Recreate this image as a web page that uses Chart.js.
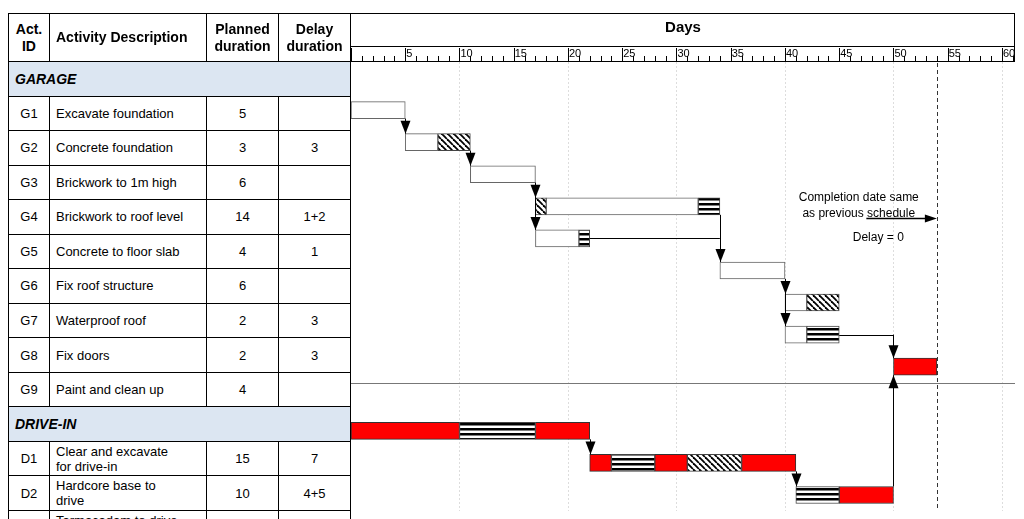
<!DOCTYPE html>
<html><head><meta charset="utf-8">
<script src="https://cdn.jsdelivr.net/npm/chart.js@4"></script>
<style>
body{margin:0;background:#fff;font-family:"Liberation Sans",Arial,sans-serif;}
#wrap{position:absolute;left:0;top:0;width:1024px;height:519px;}
.c{position:absolute;box-sizing:border-box;border-right:1px solid #000;border-bottom:1px solid #000;display:flex;align-items:center;font-size:13px;color:#000;}
#cw{position:absolute;left:351px;top:13px;width:664px;height:498px;}
</style></head><body>
<div id="wrap"><div id="cw"><canvas id="ch"></canvas></div></div>
<script>
const rows=['GARAGE','G1','G2','G3','G4','G5','G6','G7','G8','G9','DRIVE-IN','D1','D2','D3'];
const descs={G1:'Excavate foundation',G2:'Concrete foundation',G3:'Brickwork to 1m high',G4:'Brickwork to roof level',G5:'Concrete to floor slab',G6:'Fix roof structure',G7:'Waterproof roof',G8:'Fix doors',G9:'Paint and clean up',D1:'Clear and excavate for drive-in',D2:'Hardcore base to drive',D3:'Tarmacadam to drive-in'};
const planned={G1:'5',G2:'3',G3:'6',G4:'14',G5:'4',G6:'6',G7:'2',G8:'2',G9:'4',D1:'15',D2:'10',D3:'5'};
const delays={G1:'',G2:'3',G3:'',G4:'1+2',G5:'1',G6:'',G7:'3',G8:'3',G9:'',D1:'7',D2:'4+5',D3:'4'};
// segments: [row, startDay, endDay]
const whiteSegs=[['G1',0,5],['G2',5,8],['G3',11,17],['G4',18,32],['G5',17,21],['G6',34,40],['G7',40,42],['G8',40,42]];
const diagSegs=[['G2',8,11],['G4',17,18],['G7',42,45],['D2',31,36]];
const stripeSegs=[['G4',32,34],['G5',21,22],['G8',42,45],['D1',10,17],['D2',24,28],['D3',41,45]];
const redSegs=[['G9',50,54],['D1',0,10],['D1',17,22],['D2',22,24],['D2',28,31],['D2',36,41],['D3',45,50]];
// links: [fromRow, day, toRow]
const links=[['G1',5,'G2'],['G2',11,'G3'],['G3',17,'G4'],['G3',17,'G5'],['G4',34,'G6'],['G6',40,'G7'],['G6',40,'G8'],['G8',50,'G9'],['D3',50,'G9'],['D1',22,'D2'],['D2',41,'D3']];
const tails=[['G5',22,34],['G8',45,50]];
const completionDay=54;

// table
const wrap=document.getElementById('wrap');
const cols=[[8,42],[50,157],[207,72],[279,72]];
const top0=13,hh=49,rh=(511-62)/13;
function cell(x,y,w,h,txt,css){const d=document.createElement('div');d.className='c';d.style.cssText+=`left:${x}px;top:${y}px;width:${w}px;height:${h}px;`+(css||'');d.innerHTML=txt;wrap.appendChild(d);return d;}
const hdr=['Act.<br>ID','Activity Description','Planned<br>duration','Delay<br>duration'];
cols.forEach((c,i)=>cell(c[0],top0,c[1],hh,hdr[i],'font-weight:bold;font-size:14px;justify-content:center;text-align:center;line-height:17px;border-top:1px solid #000;'+(i==0?'border-left:1px solid #000;':'')+(i==1?'justify-content:flex-start;padding-left:6px;':'')));
cell(351,top0,664,hh,'','border-top:1px solid #000;');
const body=rows.filter(r=>r!=='GARAGE'&&r!=='DRIVE-IN');
rows.forEach((r,i)=>{const y=62+i*rh;
 if(r==='GARAGE'||r==='DRIVE-IN'){cell(8,y,343,rh,r,'background:#dce6f2;font-weight:bold;font-style:italic;font-size:14px;padding-left:6px;border-left:1px solid #000;');return;}
 cell(8,y,42,rh,r,'justify-content:center;border-left:1px solid #000;');
 cell(50,y,157,rh,descs[r],'padding-left:6px;line-height:15px;padding-right:20px;');
 cell(207,y,72,rh,planned[r],'justify-content:center;');
 cell(279,y,72,rh,delays[r],'justify-content:center;');
});

function mkPat(kind){const c=document.createElement('canvas');c.width=6;c.height=kind==='d'?6:5;const x=c.getContext('2d');x.fillStyle='#fff';x.fillRect(0,0,c.width,c.height);x.fillStyle='#000';
 if(kind==='d'){x.strokeStyle='#000';x.lineWidth=1.8;for(let k=-6;k<=6;k+=6){x.beginPath();x.moveTo(k,0);x.lineTo(k+6,6);x.stroke();}}
 else{x.fillRect(0,0,6,2.5);}
 return x.createPattern(c,'repeat');}
const toData=s=>s.map(a=>({y:a[0],x:[a[1],a[2]]}));
const ds=(segs,bg,bc)=>({data:toData(segs),backgroundColor:bg,borderColor:bc,borderWidth:1,borderSkipped:false,barThickness:17,grouped:false});

const deco={id:'deco',
 beforeDatasetsDraw(ch){const {ctx,chartArea:a,scales:{x,y}}=ch;ctx.save();
  // grid every 10
  ctx.strokeStyle='#ddd';ctx.setLineDash([2,2]);ctx.lineWidth=1;
  for(let d=10;d<=60;d+=10){const px=Math.round(x.getPixelForValue(d))+.5;ctx.beginPath();ctx.moveTo(px,a.top);ctx.lineTo(px,a.bottom);ctx.stroke();}
  ctx.setLineDash([]);
  // separator
  const sy=(y.getPixelForValue('G9')+y.getPixelForValue('DRIVE-IN'))/2;
  ctx.strokeStyle='#777';ctx.beginPath();ctx.moveTo(a.left,Math.round(sy)+.5);ctx.lineTo(a.right,Math.round(sy)+.5);ctx.stroke();
  // completion dashed
  const cx=Math.round(x.getPixelForValue(completionDay))+.5;ctx.strokeStyle='#333';ctx.setLineDash([4,3]);ctx.beginPath();ctx.moveTo(cx,a.top-6);ctx.lineTo(cx,a.bottom);ctx.stroke();ctx.setLineDash([]);
  // ruler
  ctx.fillStyle='#000';ctx.font='bold 15px "Liberation Sans",Arial';ctx.textAlign='center';ctx.textBaseline='middle';
  ctx.fillText('Days',(a.left+a.right)/2,15);
  ctx.strokeStyle='#000';ctx.beginPath();ctx.moveTo(a.left,33.5);ctx.lineTo(a.right,33.5);ctx.stroke();
  ctx.font='11px "Liberation Sans",Arial';ctx.textAlign='left';
  ctx.beginPath();
  for(let d=0;d<=61;d++){const px=Math.round(x.getPixelForValue(d))+.5;const h=d%5===0?13:5;ctx.moveTo(px,a.top-1);ctx.lineTo(px,a.top-1-h);}
  ctx.stroke();
  for(let d=5;d<=60;d+=5){ctx.fillText(String(d),x.getPixelForValue(d)+1,a.top-8);}
  ctx.restore();},
 afterDatasetsDraw(ch){const {ctx,scales:{x,y}}=ch;ctx.save();ctx.strokeStyle='#000';ctx.fillStyle='#000';ctx.lineWidth=1;const hb=8.5;
  tails.forEach(([r,s,e])=>{const py=Math.round(y.getPixelForValue(r))+.5;ctx.beginPath();ctx.moveTo(x.getPixelForValue(s),py);ctx.lineTo(x.getPixelForValue(e),py);ctx.stroke();});
  links.forEach(([f,d,t])=>{const px=Math.round(x.getPixelForValue(d))+.5;const fy=y.getPixelForValue(f),ty=y.getPixelForValue(t);const down=ty>fy;
   const y0=tails.some(tl=>tl[0]===f)?fy:fy+(down?hb:-hb);const y1=ty+(down?-hb:hb);
   ctx.beginPath();ctx.moveTo(px,y0);ctx.lineTo(px,y1);ctx.stroke();
   ctx.beginPath();ctx.moveTo(px,y1);ctx.lineTo(px-5,y1+(down?-13:13));ctx.lineTo(px+5,y1+(down?-13:13));ctx.closePath();ctx.fill();});
  // completion note
  const cx=x.getPixelForValue(completionDay);const y4=y.getPixelForValue('G4'),y5=y.getPixelForValue('G5');
  ctx.font='12px "Liberation Sans",Arial';ctx.textAlign='center';ctx.textBaseline='middle';
  ctx.fillText('Completion date same',x.getPixelForValue(46.8),y4-9);
  ctx.fillText('as previous schedule',x.getPixelForValue(46.8),y4+7);
  ctx.fillText('Delay = 0',x.getPixelForValue(48.6),y5-1);
  const ay=Math.round((y4+y5)/2-4)+.5;ctx.lineWidth=1.5;ctx.beginPath();ctx.moveTo(x.getPixelForValue(47.5),ay);ctx.lineTo(cx-10,ay);ctx.stroke();
  ctx.beginPath();ctx.moveTo(cx,ay);ctx.lineTo(cx-12,ay-4);ctx.lineTo(cx-12,ay+4);ctx.closePath();ctx.fill();
  ctx.restore();}};

new Chart(document.getElementById('ch'),{type:'bar',
 data:{labels:rows,datasets:[ds(whiteSegs,'#fff','#666'),ds(diagSegs,mkPat('d'),'#444'),ds(stripeSegs,mkPat('s'),'#444'),ds(redSegs,'#ff0000','#333')]},
 options:{indexAxis:'y',responsive:true,maintainAspectRatio:false,animation:false,
  layout:{padding:{top:49,left:0,right:0,bottom:0}},
  plugins:{legend:{display:false},tooltip:{enabled:false}},
  scales:{x:{type:'linear',min:0,max:61.2,display:false},y:{type:'category',labels:rows,display:false,offset:true}}},
 plugins:[deco]});
</script></body></html>
